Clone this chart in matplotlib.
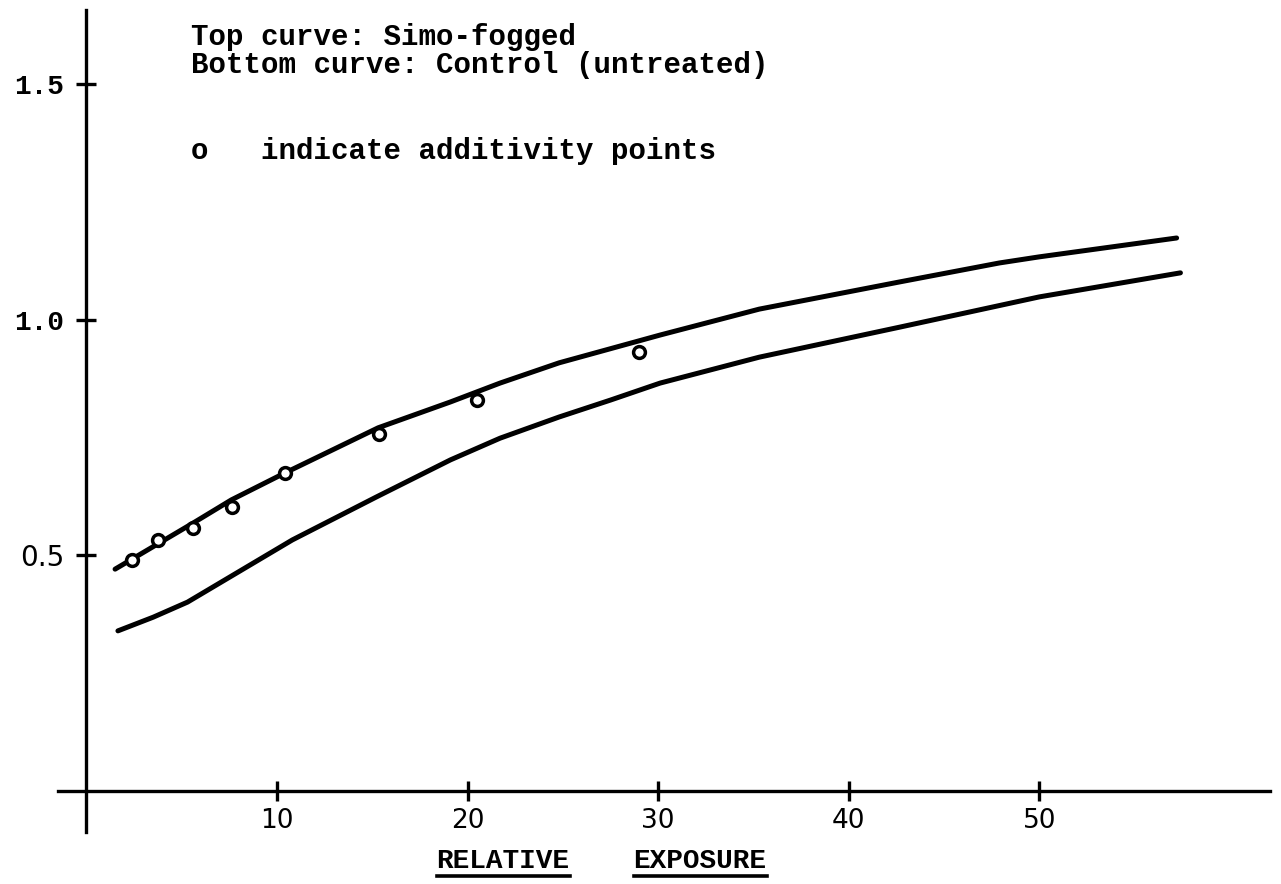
import matplotlib.pyplot as plt
from matplotlib.lines import Line2D

# curves
top_x = [1.5, 5.6, 7.6, 10.4, 15.3, 19.1, 21.7, 24.8, 30.1, 35.3, 42.7, 47.9, 50.0, 57.2]
top_y = [0.471, 0.569, 0.618, 0.675, 0.771, 0.826, 0.866, 0.909, 0.968, 1.023, 1.081, 1.121, 1.134, 1.174]

bottom_x = [1.65, 3.5, 5.3, 10.8, 15.2, 19.1, 21.7, 24.8, 27.5, 30.1, 35.3, 42.7, 50.0, 57.4]
bottom_y = [0.340, 0.369, 0.401, 0.533, 0.624, 0.703, 0.749, 0.794, 0.830, 0.866, 0.921, 0.985, 1.049, 1.100]

# additivity points
add_x = [2.39, 3.75, 5.58, 7.63, 10.41, 15.34, 20.5, 29.0]
add_y = [0.490, 0.533, 0.558, 0.603, 0.675, 0.758, 0.830, 0.932]

x_ticks = [10, 20, 30, 40, 50]
y_ticks = [0.5, 1.0, 1.5]

W, H = 1281, 884
mono = 'Liberation Mono'

fig = plt.figure(figsize=(W / 100, H / 100), dpi=100)
# axes box covers the drawn axis lines exactly
ax = fig.add_axes([57.9 / W, 1 - 832 / H, (1270 - 57.9) / W, (832 - 10) / H])
ax.set_xlim(-1.5, 62.1)
ax.set_ylim(-0.087, 1.658)

ax.plot(top_x, top_y, color='black', lw=3.6, solid_capstyle='round', solid_joinstyle='round')
ax.plot(bottom_x, bottom_y, color='black', lw=3.6, solid_capstyle='round', solid_joinstyle='round')
ax.plot(add_x, add_y, 'o', ms=8.5, mfc='white', mec='black', mew=2.5)

for s in ['top', 'right']:
    ax.spines[s].set_visible(False)
ax.spines['left'].set_position(('data', 0))
ax.spines['bottom'].set_position(('data', 0))
ax.spines['left'].set_linewidth(2.4)
ax.spines['bottom'].set_linewidth(2.4)

ax.set_xticks(x_ticks)
ax.set_xticklabels([str(t) for t in x_ticks], fontsize=19, family='DejaVu Sans')
ax.set_yticks(y_ticks)
ax.set_yticklabels(['0.5', '1.0', '1.5'], fontsize=20, family=mono, weight='bold')
ax.get_yticklabels()[0].set_family('DejaVu Sans')
ax.get_yticklabels()[0].set_weight('normal')
ax.tick_params(axis='both', direction='inout', length=14, width=2.4)
ax.tick_params(axis='x', pad=5)
ax.tick_params(axis='y', pad=9)

# notes at top
fig.text(191 / W, 1 - 37 / H, 'Top curve: Simo-fogged', fontsize=21, family=mono,
         weight='bold', va='center', ha='left')
fig.text(191 / W, 1 - 65 / H, 'Bottom curve: Control (untreated)', fontsize=21, family=mono,
         weight='bold', va='center', ha='left')
fig.text(191 / W, 1 - 151 / H, 'o   indicate additivity points', fontsize=21, family=mono,
         weight='bold', va='center', ha='left')

# underlined axis title
words = []
for word, cx in [('RELATIVE', 503), ('EXPOSURE', 700)]:
    words.append(fig.text(cx / W, 1 - 861 / H, word, fontsize=20, family=mono,
                          weight='bold', ha='center', va='center'))
fig.canvas.draw()
r = fig.canvas.get_renderer()
for t in words:
    bb = t.get_window_extent(r)
    fig.add_artist(Line2D([bb.x0 / W, bb.x1 / W], [(H - 876) / H, (H - 876) / H],
                          transform=fig.transFigure, color='black', lw=2.6))

fig.savefig('out.png', dpi=100)
